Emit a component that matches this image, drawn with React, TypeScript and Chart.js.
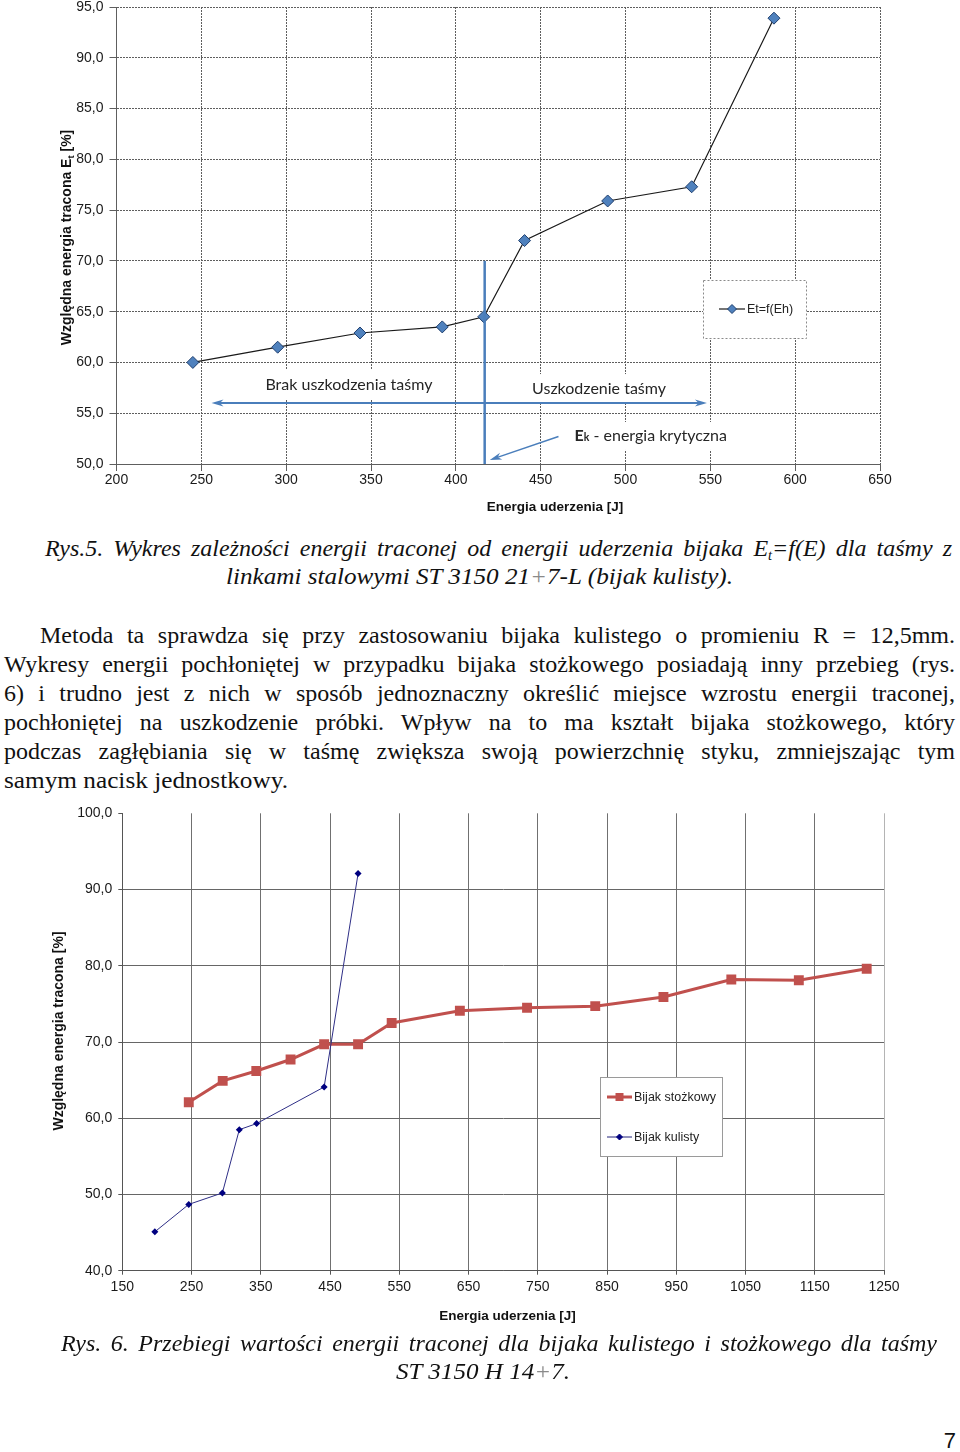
import React, { useEffect, useLayoutEffect, useRef } from 'react';
import { Chart, registerables } from 'chart.js';

Chart.register(...registerables);

// ---------- Figure 5 data ----------
const fig5Energy = [245, 295, 343.5, 392, 416.5, 440.5, 489.5, 539, 587.5];
const fig5Loss = [60.0, 61.5, 62.9, 63.5, 64.5, 72.0, 75.9, 77.3, 93.9];
const fig5XTicks = [200, 250, 300, 350, 400, 450, 500, 550, 600, 650];
const fig5YTicks = [50, 55, 60, 65, 70, 75, 80, 85, 90, 95];
const fig5SeriesName = 'Et=f(Eh)';
const criticalEnergy = 417;
const zoneTexts = ['Brak uszkodzenia taśmy', 'Uszkodzenie taśmy'];

// ---------- Figure 6 data ----------
const fig6XTicks = [150, 250, 350, 450, 550, 650, 750, 850, 950, 1050, 1150, 1250];
const fig6YTicks = [40, 50, 60, 70, 80, 90, 100];
const coneEnergy = [246, 295, 343.5, 393, 441.5, 490.5, 539, 637.5, 734.5, 833, 931.5, 1029.5, 1127, 1225];
const coneLoss = [62.1, 64.9, 66.2, 67.7, 69.7, 69.7, 72.5, 74.1, 74.5, 74.7, 75.9, 78.2, 78.1, 79.6];
const ballEnergy = [197, 246, 294.5, 319, 344, 441.5, 490.5];
const ballLoss = [45.1, 48.7, 50.2, 58.5, 59.3, 64.1, 92.1];
const fig6SeriesNames = ['Bijak stożkowy', 'Bijak kulisty'];

const SANS = '"Liberation Sans", Arial, sans-serif';
const ANN = 'Lato, "Open Sans", sans-serif';
const ANN_SIZE = 16;
const comma1 = (v: number) => v.toFixed(1).replace('.', ',');

function diamond(ctx: CanvasRenderingContext2D, x: number, y: number, r: number, fill: string, stroke: string) {
  ctx.beginPath();
  ctx.moveTo(x, y - r);
  ctx.lineTo(x + r, y);
  ctx.lineTo(x, y + r);
  ctx.lineTo(x - r, y);
  ctx.closePath();
  ctx.fillStyle = fill;
  ctx.fill();
  ctx.lineWidth = 1;
  ctx.strokeStyle = stroke;
  ctx.stroke();
}

function arrowHead(ctx: CanvasRenderingContext2D, tx: number, ty: number, ang: number, len: number, hw: number) {
  const c = Math.cos(ang), s = Math.sin(ang);
  const bx = tx - len * c, by = ty - len * s;
  const ix = tx - len * 0.7 * c, iy = ty - len * 0.7 * s;
  ctx.beginPath();
  ctx.moveTo(tx, ty);
  ctx.lineTo(bx - hw * s, by + hw * c);
  ctx.lineTo(ix, iy);
  ctx.lineTo(bx + hw * s, by - hw * c);
  ctx.closePath();
  ctx.fill();
}

function ekParts(ctx: CanvasRenderingContext2D) {
  ctx.font = `bold ${ANN_SIZE}px ${ANN}`;
  const wE = ctx.measureText('E').width;
  ctx.font = `bold 10.5px ${ANN}`;
  const wk = ctx.measureText('k').width;
  ctx.font = `${ANN_SIZE}px ${ANN}`;
  const wr = ctx.measureText(' - energia krytyczna').width;
  return { wE, wk, wr, total: wE + wk + wr };
}

// annotation placement in data units (x: J, y: %)
const labelPos = [
  [337, 57.78],
  [484.4, 57.38],
];
const ekPos = [470, 52.76];

const fig5Plugin = {
  id: 'fig5Extras',
  beforeDatasetsDraw(chart: any) {
    const { ctx } = chart;
    const xs = chart.scales.x, ys = chart.scales.y;
    ctx.save();
    ctx.font = `${ANN_SIZE}px ${ANN}`;
    zoneTexts.forEach((t, i) => {
      const w = ctx.measureText(t).width;
      const cx = xs.getPixelForValue(labelPos[i][0]);
      const cy = ys.getPixelForValue(labelPos[i][1]);
      ctx.fillStyle = '#ffffff';
      ctx.fillRect(cx - w / 2 - 9, cy - 15, w + 18, 29);
    });
    const ek = ekParts(ctx);
    const ex = xs.getPixelForValue(ekPos[0]);
    const ey = ys.getPixelForValue(ekPos[1]);
    ctx.fillStyle = '#ffffff';
    ctx.fillRect(ex - 9, ey - 14, ek.total + 18, 28);
    ctx.restore();
  },
  afterDatasetsDraw(chart: any) {
    const { ctx } = chart;
    const xs = chart.scales.x, ys = chart.scales.y;
    const blue = '#4a7ebb';
    ctx.save();
    // critical energy vertical line
    const vx = xs.getPixelForValue(criticalEnergy);
    ctx.strokeStyle = blue;
    ctx.lineWidth = 2.5;
    ctx.beginPath();
    ctx.moveTo(vx, ys.getPixelForValue(70));
    ctx.lineTo(vx, ys.getPixelForValue(50));
    ctx.stroke();
    // zone double arrow
    const ay = ys.getPixelForValue(56);
    const ax1 = xs.getPixelForValue(256), ax2 = xs.getPixelForValue(548);
    ctx.lineWidth = 2;
    ctx.beginPath();
    ctx.moveTo(ax1 + 8, ay);
    ctx.lineTo(ax2 - 8, ay);
    ctx.stroke();
    ctx.fillStyle = blue;
    arrowHead(ctx, ax1, ay, Math.PI, 12, 3.5);
    arrowHead(ctx, ax2, ay, 0, 12, 3.5);
    // E_k pointer arrow
    const p1x = xs.getPixelForValue(460.5), p1y = ys.getPixelForValue(52.7);
    const p2x = xs.getPixelForValue(420), p2y = ys.getPixelForValue(50.4);
    const ang = Math.atan2(p2y - p1y, p2x - p1x);
    ctx.lineWidth = 1.5;
    ctx.beginPath();
    ctx.moveTo(p1x, p1y);
    ctx.lineTo(p2x - 8 * Math.cos(ang), p2y - 8 * Math.sin(ang));
    ctx.stroke();
    arrowHead(ctx, p2x, p2y, ang, 12, 3.5);

    // texts
    ctx.fillStyle = '#262626';
    ctx.textBaseline = 'middle';
    ctx.textAlign = 'center';
    ctx.font = `${ANN_SIZE}px ${ANN}`;
    zoneTexts.forEach((t, i) => {
      ctx.fillText(t, xs.getPixelForValue(labelPos[i][0]), ys.getPixelForValue(labelPos[i][1]));
    });
    const ek = ekParts(ctx);
    let ex = xs.getPixelForValue(ekPos[0]);
    const ey = ys.getPixelForValue(ekPos[1]);
    ctx.textAlign = 'left';
    ctx.textBaseline = 'alphabetic';
    const base = ey + 5.5;
    ctx.font = `bold ${ANN_SIZE}px ${ANN}`;
    ctx.fillText('E', ex, base);
    ex += ek.wE;
    ctx.font = `bold 10.5px ${ANN}`;
    ctx.fillText('k', ex, base);
    ex += ek.wk;
    ctx.font = `${ANN_SIZE}px ${ANN}`;
    ctx.fillText(' - energia krytyczna', ex, base);

    // legend box
    ctx.setLineDash([2, 2]);
    ctx.fillStyle = '#ffffff';
    ctx.fillRect(703, 280, 103, 58);
    ctx.strokeStyle = '#8a8a8a';
    ctx.lineWidth = 1;
    ctx.strokeRect(703.5, 280.5, 103, 58);
    ctx.setLineDash([]);
    ctx.strokeStyle = '#1a1a1a';
    ctx.lineWidth = 1.2;
    ctx.beginPath();
    ctx.moveTo(719, 309);
    ctx.lineTo(745, 309);
    ctx.stroke();
    diamond(ctx, 732, 309, 4.5, '#4f81bd', '#1f3f6e');
    ctx.fillStyle = '#222';
    ctx.font = `12.5px ${SANS}`;
    ctx.textBaseline = 'middle';
    ctx.fillText(fig5SeriesName, 747, 309.5);

    // axis titles
    ctx.fillStyle = '#111';
    ctx.textAlign = 'center';
    ctx.font = `bold 13.5px ${SANS}`;
    ctx.fillText('Energia uderzenia [J]', 555, 507);

    ctx.translate(66, 237.5);
    ctx.rotate(-Math.PI / 2);
    ctx.textAlign = 'left';
    ctx.textBaseline = 'alphabetic';
    const a = 'Względna energia tracona E', sub = 't', b = ' [%]';
    ctx.font = `bold 14px ${SANS}`;
    const wa = ctx.measureText(a).width, wb = ctx.measureText(b).width;
    ctx.font = `bold 9.5px ${SANS}`;
    const ws = ctx.measureText(sub).width;
    let tx = -(wa + ws + wb) / 2;
    ctx.font = `bold 14px ${SANS}`;
    ctx.fillText(a, tx, 5);
    tx += wa;
    ctx.font = `bold 9.5px ${SANS}`;
    ctx.fillText(sub, tx, 8);
    tx += ws;
    ctx.font = `bold 14px ${SANS}`;
    ctx.fillText(b, tx, 5);
    ctx.restore();
  },
};

const fig6Plugin = {
  id: 'fig6Extras',
  afterDatasetsDraw(chart: any) {
    const { ctx } = chart;
    ctx.save();
    // legend
    ctx.fillStyle = '#ffffff';
    ctx.fillRect(600, 277, 123, 79);
    ctx.strokeStyle = '#9a9a9a';
    ctx.lineWidth = 1;
    ctx.strokeRect(600.5, 277.5, 122, 79);
    // cone item
    ctx.strokeStyle = '#c0504d';
    ctx.lineWidth = 3;
    ctx.beginPath();
    ctx.moveTo(607, 297);
    ctx.lineTo(632, 297);
    ctx.stroke();
    ctx.fillStyle = '#c0504d';
    ctx.fillRect(615.5, 293, 8, 8);
    // ball item
    ctx.strokeStyle = '#23237a';
    ctx.lineWidth = 1;
    ctx.beginPath();
    ctx.moveTo(607, 337);
    ctx.lineTo(632, 337);
    ctx.stroke();
    diamond(ctx, 619.5, 337, 3, '#000080', '#000080');
    ctx.fillStyle = '#222';
    ctx.font = `12.5px ${SANS}`;
    ctx.textBaseline = 'middle';
    ctx.textAlign = 'left';
    ctx.fillText(fig6SeriesNames[0], 634, 297.5);
    ctx.fillText(fig6SeriesNames[1], 634, 337.5);

    // axis titles
    ctx.fillStyle = '#111';
    ctx.textAlign = 'center';
    ctx.font = `bold 13.5px ${SANS}`;
    ctx.fillText('Energia uderzenia [J]', 507.5, 516);
    ctx.translate(59, 231);
    ctx.rotate(-Math.PI / 2);
    ctx.font = `bold 14px ${SANS}`;
    ctx.fillText('Względna energia tracona [%]', 0, 0);
    ctx.restore();
  },
};

type LineProps = {
  left: number;
  width: number;
  center: number;
  size?: number;
  italic?: boolean;
  mode: 'justify' | 'fit' | 'none';
  children: React.ReactNode;
};

function TextLine({ left, width, center, size = 24, italic = false, mode, children }: LineProps) {
  const ref = useRef<HTMLSpanElement>(null);
  useLayoutEffect(() => {
    const el = ref.current;
    if (!el) return;
    el.style.wordSpacing = '0px';
    el.style.transform = 'none';
    const natural = el.getBoundingClientRect().width;
    if (!natural || mode === 'none') return;
    const spaces = (el.textContent || '').split(' ').length - 1;
    if (mode === 'justify' && natural <= width && spaces > 0) {
      el.style.wordSpacing = `${(width - natural) / spaces}px`;
    } else {
      el.style.transform = `scaleX(${width / natural})`;
    }
  }, [left, width, mode]);
  return (
    <span
      ref={ref}
      style={{
        position: 'absolute',
        left,
        top: center - 14.5,
        height: 29,
        lineHeight: '29px',
        whiteSpace: 'pre',
        fontFamily: '"Liberation Serif", "Times New Roman", serif',
        fontSize: size,
        fontStyle: italic ? 'italic' : 'normal',
        color: '#111',
        transformOrigin: '0 50%',
      }}
    >
      {children}
    </span>
  );
}

const Sub = ({ children }: { children: React.ReactNode }) => (
  <span style={{ fontSize: '0.6em', position: 'relative', top: '0.3em' }}>{children}</span>
);
const Grey = ({ children }: { children: React.ReactNode }) => (
  <span style={{ color: '#8a8a8a' }}>{children}</span>
);

export default function App() {
  const ref1 = useRef<HTMLCanvasElement>(null);
  const ref2 = useRef<HTMLCanvasElement>(null);

  useEffect(() => {
    if (!ref1.current || !ref2.current) return;
    const tickFont = { family: SANS, size: 14, lineHeight: 1 };
    const grid5 = '#5e5e5e';

    const ch1 = new Chart(ref1.current, {
      type: 'scatter',
      data: {
        datasets: [
          {
            label: fig5SeriesName,
            data: fig5Energy.map((x, i) => ({ x, y: fig5Loss[i] })),
            showLine: true,
            borderColor: '#1a1a1a',
            borderWidth: 1.2,
            pointStyle: 'rectRot',
            pointRadius: 6,
            pointHoverRadius: 6,
            pointBackgroundColor: '#4f81bd',
            pointBorderColor: '#1f3f6e',
            pointBorderWidth: 1,
          },
        ],
      },
      options: {
        responsive: false,
        animation: false,
        events: [],
        layout: { padding: { left: 0, top: 7, right: 80, bottom: 0 } },
        plugins: { legend: { display: false }, tooltip: { enabled: false } },
        scales: {
          x: {
            type: 'linear',
            min: 200,
            max: 650,
            afterBuildTicks: (s: any) => {
              s.ticks = fig5XTicks.map((v) => ({ value: v }));
            },
            afterFit: (s: any) => {
              s.height = 56;
            },
            ticks: { autoSkip: false, maxRotation: 0, padding: 2, color: '#1a1a1a', font: tickFont, callback: (v: any) => String(v) },
            grid: { color: grid5, lineWidth: 1, tickLength: 7, tickColor: grid5 },
            border: { color: grid5, dash: [2, 1] },
          },
          y: {
            type: 'linear',
            min: 50,
            max: 95,
            afterBuildTicks: (s: any) => {
              s.ticks = fig5YTicks.map((v) => ({ value: v }));
            },
            afterFit: (s: any) => {
              s.width = 116.5;
              s.paddingTop = 7;
              s.paddingBottom = 7;
            },
            ticks: { autoSkip: false, padding: 6, color: '#1a1a1a', font: tickFont, callback: (v: any) => comma1(Number(v)) },
            grid: { color: grid5, lineWidth: 1, tickLength: 7, tickColor: grid5 },
            border: { color: grid5, dash: [2, 1] },
          },
        },
      } as any,
      plugins: [fig5Plugin],
    });

    const ch2 = new Chart(ref2.current, {
      type: 'scatter',
      data: {
        datasets: [
          {
            label: fig6SeriesNames[1],
            data: ballEnergy.map((x, i) => ({ x, y: ballLoss[i] })),
            showLine: true,
            borderColor: '#2e2e86',
            borderWidth: 1,
            pointStyle: 'rectRot',
            pointRadius: 3.5,
            pointHoverRadius: 3.5,
            pointBackgroundColor: '#000080',
            pointBorderColor: '#000080',
            pointBorderWidth: 0,
          },
          {
            label: fig6SeriesNames[0],
            data: coneEnergy.map((x, i) => ({ x, y: coneLoss[i] })),
            showLine: true,
            borderColor: '#c0504d',
            borderWidth: 3,
            pointStyle: 'rect',
            pointRadius: 7,
            pointHoverRadius: 7,
            pointBackgroundColor: '#c0504d',
            pointBorderColor: '#c0504d',
            pointBorderWidth: 0,
          },
        ],
      },
      options: {
        responsive: false,
        animation: false,
        events: [],
        layout: { padding: { left: 0, top: 13.3, right: 76, bottom: 0 } },
        plugins: { legend: { display: false }, tooltip: { enabled: false } },
        scales: {
          x: {
            type: 'linear',
            min: 150,
            max: 1250,
            afterBuildTicks: (s: any) => {
              s.ticks = fig6XTicks.map((v) => ({ value: v }));
            },
            afterFit: (s: any) => {
              s.height = 59.3;
            },
            ticks: { autoSkip: false, maxRotation: 0, padding: 5, color: '#1a1a1a', font: tickFont, callback: (v: any) => String(v) },
            grid: {
              color: (c: any) => (c.tick && c.tick.value === 1250 ? '#b4b4b4' : '#707070'),
              lineWidth: 1,
              tickLength: 4,
              tickColor: '#555',
            },
            border: { color: '#555' },
          },
          y: {
            type: 'linear',
            min: 40,
            max: 100,
            afterBuildTicks: (s: any) => {
              s.ticks = fig6YTicks.map((v) => ({ value: v }));
            },
            afterFit: (s: any) => {
              s.width = 122.3;
              s.paddingTop = 7;
              s.paddingBottom = 7;
            },
            ticks: { autoSkip: false, padding: 6, color: '#1a1a1a', font: tickFont, callback: (v: any) => comma1(Number(v)) },
            grid: {
              color: (c: any) => (c.tick && c.tick.value === 100 ? 'rgba(0,0,0,0)' : '#666'),
              lineWidth: 1,
              tickLength: 4,
              tickColor: '#555',
            },
            border: { color: '#555' },
          },
        },
      } as any,
      plugins: [fig6Plugin],
    });

    return () => {
      ch1.destroy();
      ch2.destroy();
    };
  }, []);

  return (
    <div style={{ position: 'absolute', left: 0, top: 0, width: 960, height: 1452, background: '#fff', overflow: 'hidden' }}>
      <canvas ref={ref1} width={960} height={520} style={{ position: 'absolute', left: 0, top: 0, width: 960, height: 520 }} />
      <canvas ref={ref2} width={960} height={530} style={{ position: 'absolute', left: 0, top: 800, width: 960, height: 530 }} />

      <TextLine left={45} width={907} center={548} italic mode="justify">
        Rys.5. Wykres zależności energii traconej od energii uderzenia bijaka E<Sub>t</Sub>=f(E) dla taśmy z
      </TextLine>
      <TextLine left={226} width={507} center={576} italic mode="fit">
        linkami stalowymi ST 3150 21<Grey>+</Grey>7-L (bijak kulisty).
      </TextLine>

      <TextLine left={40} width={915} center={635} mode="justify">
        Metoda ta sprawdza się przy zastosowaniu bijaka kulistego o promieniu R = 12,5mm.
      </TextLine>
      <TextLine left={4} width={951} center={664} mode="justify">
        Wykresy energii pochłoniętej w przypadku bijaka stożkowego posiadają inny przebieg (rys.
      </TextLine>
      <TextLine left={4} width={951} center={693} mode="justify">
        6) i trudno jest z nich w sposób jednoznaczny określić miejsce wzrostu energii traconej,
      </TextLine>
      <TextLine left={4} width={951} center={722} mode="justify">
        pochłoniętej na uszkodzenie próbki. Wpływ na to ma kształt bijaka stożkowego, który
      </TextLine>
      <TextLine left={4} width={951} center={751} mode="justify">
        podczas zagłębiania się w taśmę zwiększa swoją powierzchnię styku, zmniejszając tym
      </TextLine>
      <TextLine left={4} width={284} center={780} mode="fit">
        samym nacisk jednostkowy.
      </TextLine>

      <TextLine left={61} width={876} center={1343} italic mode="justify">
        Rys. 6. Przebiegi wartości energii traconej dla bijaka kulistego i stożkowego dla taśmy
      </TextLine>
      <TextLine left={396} width={174} center={1371} italic mode="fit">
        ST 3150 H 14<Grey>+</Grey>7.
      </TextLine>

      <div
        style={{
          position: 'absolute',
          left: 900,
          width: 56,
          top: 1430,
          lineHeight: '22px',
          fontSize: 22,
          textAlign: 'right',
          fontFamily: SANS,
          color: '#111',
        }}
      >
        7
      </div>
    </div>
  );
}
